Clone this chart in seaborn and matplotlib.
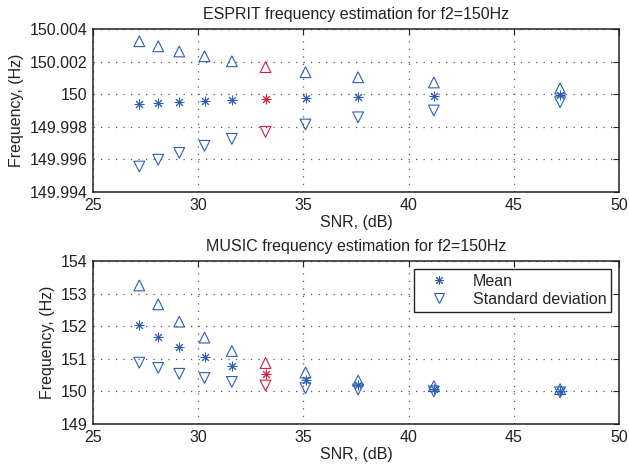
import matplotlib
matplotlib.use("Agg")
import matplotlib.pyplot as plt
from matplotlib.lines import Line2D
import seaborn as sns
import pandas as pd
import numpy as np

# ---------------- data ----------------
snr = [27.2, 28.1, 29.1, 30.3, 31.6, 33.2, 35.1, 37.6, 41.2, 47.2]
highlight = [False, False, False, False, False, True, False, False, False, False]

esprit_mean = [149.99940, 149.99945, 149.99952, 149.99959, 149.99965,
               149.99968, 149.99974, 149.99980, 149.99987, 149.99993]
esprit_upper = [150.00325, 150.00294, 150.00262, 150.00233, 150.00202,
                150.00166, 150.00135, 150.00104, 150.00072, 150.00035]
esprit_lower = [149.99556, 149.99598, 149.99640, 149.99683, 149.99726,
                149.99769, 149.99814, 149.99858, 149.99900, 149.99951]

music_mean = [152.05, 151.68, 151.35, 151.04, 150.78, 150.53, 150.36, 150.20, 150.08, 150.02]
music_upper = [153.25, 152.67, 152.14, 151.65, 151.24, 150.87, 150.58, 150.33, 150.16, 150.07]
music_lower = [150.88, 150.72, 150.54, 150.41, 150.29, 150.18, 150.10, 150.06, 150.00, 149.97]

x_ticks = [25, 30, 35, 40, 45, 50]
esprit_yticks = [149.994, 149.996, 149.998, 150.0, 150.002, 150.004]
esprit_yticklabels = ["149.994", "149.996", "149.998", "150", "150.002", "150.004"]
music_yticks = [149, 150, 151, 152, 153, 154]
music_yticklabels = ["149", "150", "151", "152", "153", "154"]

titles = ["ESPRIT frequency estimation for f2=150Hz", "MUSIC frequency estimation for f2=150Hz"]
xlabel = "SNR, (dB)"
ylabel = "Frequency, (Hz)"
legend_labels = ["Mean", "Standard deviation"]

BLUE = "#2c5fb3"
RED = "#d2203d"

# ---------------- style ----------------
sns.set_theme(style="white")
plt.rcParams["font.family"] = ["Liberation Sans", "DejaVu Sans"]
plt.rcParams["font.size"] = 11.5

fig = plt.figure(figsize=(6.29, 4.75), dpi=100)
ax1 = fig.add_axes([93 / 629, 1 - 192 / 475, 526 / 629, 163 / 475])
ax2 = fig.add_axes([93 / 629, 1 - 424 / 475, 526 / 629, 163 / 475])

STAR = (8, 2, 0)


def draw(ax, mean, upper, lower):
    df = pd.DataFrame({"snr": snr, "mean": mean, "upper": upper,
                       "lower": lower, "hl": highlight})
    for flag, col in [(False, BLUE), (True, RED)]:
        sub = df[df["hl"] == flag]
        sns.scatterplot(data=sub, x="snr", y="upper", ax=ax, marker="^",
                        s=60, color=col, facecolors="none", edgecolor=col,
                        linewidth=0.8, zorder=3, legend=False)
        sns.scatterplot(data=sub, x="snr", y="lower", ax=ax, marker="v",
                        s=60, color=col, facecolors="none", edgecolor=col,
                        linewidth=0.8, zorder=3, legend=False)
        sns.scatterplot(data=sub, x="snr", y="mean", ax=ax, marker=STAR,
                        s=42, color=col, edgecolor=col, linewidth=0.7,
                        zorder=3, legend=False)


draw(ax1, esprit_mean, esprit_upper, esprit_lower)
draw(ax2, music_mean, music_upper, music_lower)

for ax, title, yt, ytl in [(ax1, titles[0], esprit_yticks, esprit_yticklabels),
                            (ax2, titles[1], music_yticks, music_yticklabels)]:
    ax.set_xlim(25, 50)
    ax.set_ylim(yt[0], yt[-1])
    ax.set_xticks(x_ticks)
    ax.set_xticklabels([str(t) for t in x_ticks])
    ax.set_yticks(yt)
    ax.set_yticklabels(ytl)
    ax.set_title(title, fontsize=11.5, pad=7.5, color="#222222")
    ax.set_xlabel(xlabel, fontsize=11.5, labelpad=2, color="#222222")
    ax.set_ylabel(ylabel, fontsize=11.5, labelpad=4, color="#222222")
    ax.grid(True, linestyle=(0, (1, 5)), color="#555555", linewidth=0.9)
    ax.tick_params(direction="in", length=4, width=0.8, top=True, right=True,
                   labelsize=11.5, colors="#222222", pad=4)
    for sp in ax.spines.values():
        sp.set_visible(True)
        sp.set_color("#222222")
        sp.set_linewidth(1.1)

handles = [Line2D([], [], linestyle="", marker=STAR, color=BLUE, markersize=6.4,
                  markeredgewidth=0.7),
           Line2D([], [], linestyle="", marker="v", color=BLUE, markersize=7.7,
                  markerfacecolor="none", markeredgewidth=0.8)]
leg = ax2.legend(handles, legend_labels, loc="upper right", fancybox=False,
                 framealpha=1, edgecolor="#222222", borderaxespad=0.5,
                 handlelength=2.6, handletextpad=0.8, borderpad=0.3,
                 labelspacing=0.2, fontsize=11.5)
leg.get_frame().set_linewidth(1.0)

fig.savefig("out.png", dpi=100)
